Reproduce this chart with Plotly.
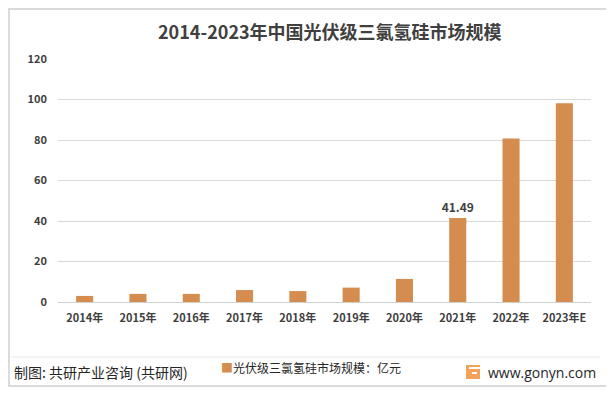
import plotly.graph_objects as go

categories = ["2014年", "2015年", "2016年", "2017年", "2018年", "2019年", "2020年", "2021年", "2022年", "2023年E"]
values = [3.0, 4.0, 4.0, 5.9, 5.4, 7.1, 11.4, 41.49, 80.8, 98.2]
labels = ["", "", "", "", "", "", "", "41.49", "", ""]
y_ticks = [0, 20, 40, 60, 80, 100, 120]

title_text = "2014-2023年中国光伏级三氯氢硅市场规模"
series_name = "光伏级三氯氢硅市场规模：亿元"
source_text = "制图: 共研产业咨询 (共研网)"
site_text = "www.gonyn.com"

OFF = 8  # page body margin offset
W, H = 614 - OFF, 393 - OFF
L, R, T, B = 58 - OFF, 591 - OFF, 59 - OFF, 302 - OFF  # plot area in figure pixels
FONT = "Noto Sans CJK SC"
BAR_COLOR = "#D48C4F"


def px(x):
    return (x - OFF - L) / (R - L)


def py(y):
    return (B - (y - OFF)) / (B - T)


fig = go.Figure()
fig.add_trace(go.Bar(
    x=categories, y=values, name=series_name,
    marker=dict(color=BAR_COLOR, line=dict(width=0)),
    text=labels, textposition="outside", cliponaxis=False, constraintext="none",
    textfont=dict(family=FONT, size=12, color="#404040", weight="bold"),
    showlegend=False,
))

shapes = [
    dict(type="rect", xref="paper", yref="paper", x0=px(9), x1=px(609), y0=py(386), y1=py(9),
         line=dict(color="#D0D0D0", width=1.5), fillcolor="rgba(0,0,0,0)", layer="above"),
    dict(type="line", xref="paper", yref="paper", x0=px(12), x1=px(600), y0=py(357), y1=py(357),
         line=dict(color="#E6E6E6", width=1)),
    dict(type="rect", xref="paper", yref="paper", x0=px(466), x1=px(480), y0=py(379), y1=py(365),
         line=dict(width=0), fillcolor="#F4A25A"),
    dict(type="rect", xref="paper", yref="paper", x0=px(469), x1=px(480), y0=py(369), y1=py(367),
         line=dict(width=0), fillcolor="white"),
    dict(type="rect", xref="paper", yref="paper", x0=px(472), x1=px(477), y0=py(374), y1=py(372),
         line=dict(width=0), fillcolor="white"),
]

annotations = [
    dict(text=title_text, xref="paper", yref="paper", x=px(330), y=py(31), showarrow=False,
         xanchor="center", yanchor="middle",
         font=dict(family=FONT, size=18, color="#404040", weight="bold")),
    dict(text=source_text, xref="paper", yref="paper", x=px(12), y=py(372), showarrow=False,
         xanchor="left", yanchor="middle",
         font=dict(family=FONT, size=14, color="#262626")),
    dict(text=f"<span style='color:{BAR_COLOR}'>■</span>{series_name}", xref="paper", yref="paper",
         x=px(219), y=py(367), showarrow=False, xanchor="left", yanchor="middle",
         font=dict(family=FONT, size=12, color="#262626")),
    dict(text=site_text, xref="paper", yref="paper", x=px(486), y=py(372), showarrow=False,
         xanchor="left", yanchor="middle",
         font=dict(family="Open Sans", size=14, color="#262626")),
]

fig.update_layout(
    width=W, height=H,
    margin=dict(l=L, r=W - R, t=T, b=H - B, pad=0),
    paper_bgcolor="white", plot_bgcolor="white",
    bargap=0.68,
    showlegend=False,
    font=dict(family=FONT, color="#595959"),
    shapes=shapes, annotations=annotations,
    xaxis=dict(showgrid=False, showline=False, zeroline=False, ticks="",
               tickfont=dict(family=FONT, size=11, color="#404040", weight="bold"),
               ticklabelstandoff=8),
    yaxis=dict(range=[0, 120], tickvals=y_ticks, showgrid=True, gridcolor="#D9D9D9", gridwidth=1,
               zeroline=True, zerolinecolor="#D0D0D0", zerolinewidth=1, showline=False, ticks="",
               tickfont=dict(family=FONT, size=11, color="#404040", weight="bold"),
               ticklabelstandoff=10),
)

fig.write_html("out.html")
